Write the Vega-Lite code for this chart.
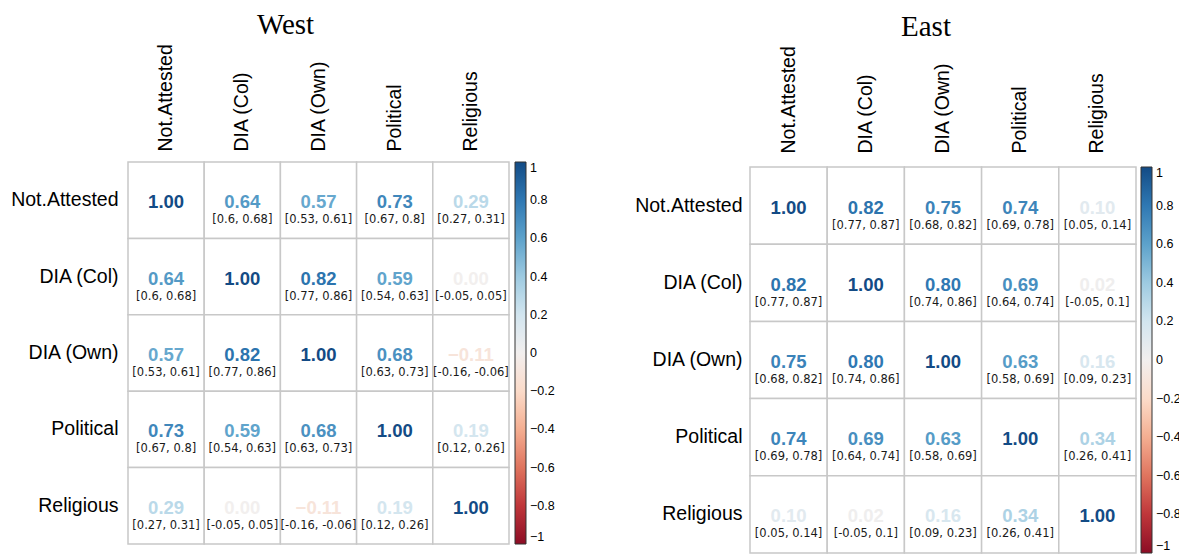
{
  "$schema": "https://vega.github.io/schema/vega-lite/v6.json",
  "padding": {"left": 10, "top": 10, "right": 0, "bottom": 0},
  "spacing": 79,
  "background": "white",
  "config": {
    "view": {"stroke": null},
    "axis": {"grid": false, "ticks": false, "domain": false, "title": null, "labelFont": "Liberation Sans", "labelFontSize": 19.5, "labelColor": "#000000"},
    "title": {"font": "Liberation Serif", "fontSize": 29, "fontWeight": "normal", "color": "#000000", "anchor": "middle"}
  },
  "resolve": {"scale": {"color": "independent"}, "legend": {"color": "independent"}},
  "datasets": {
    "west": [
      {"row": "Not.Attested", "col": "Not.Attested", "r": 1.00, "ci": ""},
      {"row": "Not.Attested", "col": "DIA (Col)", "r": 0.64, "ci": "[0.6, 0.68]"},
      {"row": "Not.Attested", "col": "DIA (Own)", "r": 0.57, "ci": "[0.53, 0.61]"},
      {"row": "Not.Attested", "col": "Political", "r": 0.73, "ci": "[0.67, 0.8]"},
      {"row": "Not.Attested", "col": "Religious", "r": 0.29, "ci": "[0.27, 0.31]"},
      {"row": "DIA (Col)", "col": "Not.Attested", "r": 0.64, "ci": "[0.6, 0.68]"},
      {"row": "DIA (Col)", "col": "DIA (Col)", "r": 1.00, "ci": ""},
      {"row": "DIA (Col)", "col": "DIA (Own)", "r": 0.82, "ci": "[0.77, 0.86]"},
      {"row": "DIA (Col)", "col": "Political", "r": 0.59, "ci": "[0.54, 0.63]"},
      {"row": "DIA (Col)", "col": "Religious", "r": 0.00, "ci": "[-0.05, 0.05]"},
      {"row": "DIA (Own)", "col": "Not.Attested", "r": 0.57, "ci": "[0.53, 0.61]"},
      {"row": "DIA (Own)", "col": "DIA (Col)", "r": 0.82, "ci": "[0.77, 0.86]"},
      {"row": "DIA (Own)", "col": "DIA (Own)", "r": 1.00, "ci": ""},
      {"row": "DIA (Own)", "col": "Political", "r": 0.68, "ci": "[0.63, 0.73]"},
      {"row": "DIA (Own)", "col": "Religious", "r": -0.11, "ci": "[-0.16, -0.06]"},
      {"row": "Political", "col": "Not.Attested", "r": 0.73, "ci": "[0.67, 0.8]"},
      {"row": "Political", "col": "DIA (Col)", "r": 0.59, "ci": "[0.54, 0.63]"},
      {"row": "Political", "col": "DIA (Own)", "r": 0.68, "ci": "[0.63, 0.73]"},
      {"row": "Political", "col": "Political", "r": 1.00, "ci": ""},
      {"row": "Political", "col": "Religious", "r": 0.19, "ci": "[0.12, 0.26]"},
      {"row": "Religious", "col": "Not.Attested", "r": 0.29, "ci": "[0.27, 0.31]"},
      {"row": "Religious", "col": "DIA (Col)", "r": 0.00, "ci": "[-0.05, 0.05]"},
      {"row": "Religious", "col": "DIA (Own)", "r": -0.11, "ci": "[-0.16, -0.06]"},
      {"row": "Religious", "col": "Political", "r": 0.19, "ci": "[0.12, 0.26]"},
      {"row": "Religious", "col": "Religious", "r": 1.00, "ci": ""}
    ],
    "east": [
      {"row": "Not.Attested", "col": "Not.Attested", "r": 1.00, "ci": ""},
      {"row": "Not.Attested", "col": "DIA (Col)", "r": 0.82, "ci": "[0.77, 0.87]"},
      {"row": "Not.Attested", "col": "DIA (Own)", "r": 0.75, "ci": "[0.68, 0.82]"},
      {"row": "Not.Attested", "col": "Political", "r": 0.74, "ci": "[0.69, 0.78]"},
      {"row": "Not.Attested", "col": "Religious", "r": 0.10, "ci": "[0.05, 0.14]"},
      {"row": "DIA (Col)", "col": "Not.Attested", "r": 0.82, "ci": "[0.77, 0.87]"},
      {"row": "DIA (Col)", "col": "DIA (Col)", "r": 1.00, "ci": ""},
      {"row": "DIA (Col)", "col": "DIA (Own)", "r": 0.80, "ci": "[0.74, 0.86]"},
      {"row": "DIA (Col)", "col": "Political", "r": 0.69, "ci": "[0.64, 0.74]"},
      {"row": "DIA (Col)", "col": "Religious", "r": 0.02, "ci": "[-0.05, 0.1]"},
      {"row": "DIA (Own)", "col": "Not.Attested", "r": 0.75, "ci": "[0.68, 0.82]"},
      {"row": "DIA (Own)", "col": "DIA (Col)", "r": 0.80, "ci": "[0.74, 0.86]"},
      {"row": "DIA (Own)", "col": "DIA (Own)", "r": 1.00, "ci": ""},
      {"row": "DIA (Own)", "col": "Political", "r": 0.63, "ci": "[0.58, 0.69]"},
      {"row": "DIA (Own)", "col": "Religious", "r": 0.16, "ci": "[0.09, 0.23]"},
      {"row": "Political", "col": "Not.Attested", "r": 0.74, "ci": "[0.69, 0.78]"},
      {"row": "Political", "col": "DIA (Col)", "r": 0.69, "ci": "[0.64, 0.74]"},
      {"row": "Political", "col": "DIA (Own)", "r": 0.63, "ci": "[0.58, 0.69]"},
      {"row": "Political", "col": "Political", "r": 1.00, "ci": ""},
      {"row": "Political", "col": "Religious", "r": 0.34, "ci": "[0.26, 0.41]"},
      {"row": "Religious", "col": "Not.Attested", "r": 0.10, "ci": "[0.05, 0.14]"},
      {"row": "Religious", "col": "DIA (Col)", "r": 0.02, "ci": "[-0.05, 0.1]"},
      {"row": "Religious", "col": "DIA (Own)", "r": 0.16, "ci": "[0.09, 0.23]"},
      {"row": "Religious", "col": "Political", "r": 0.34, "ci": "[0.26, 0.41]"},
      {"row": "Religious", "col": "Religious", "r": 1.00, "ci": ""}
    ]
  },
  "hconcat": [
    {
      "width": 381,
      "height": 382,
      "title": {"text": "West", "dx": -33},
      "data": {"name": "west"},
      "encoding": {
        "x": {"field": "col", "type": "nominal", "sort": ["Not.Attested", "DIA (Col)", "DIA (Own)", "Political", "Religious"], "scale": {"type": "band", "paddingInner": 0, "paddingOuter": 0}, "axis": {"orient": "top", "labelAngle": -90, "labelPadding": 11}},
        "y": {"field": "row", "type": "nominal", "sort": ["Not.Attested", "DIA (Col)", "DIA (Own)", "Political", "Religious"], "scale": {"type": "band", "paddingInner": 0, "paddingOuter": 0}, "axis": {"orient": "left", "labelPadding": 10}}
      },
      "layer": [
        {"mark": {"type": "rect", "fill": "white", "stroke": "#c8c8c8", "strokeWidth": 1.5}},
        {
          "mark": {"type": "text", "font": "Liberation Sans", "fontSize": 18.5, "fontWeight": "bold", "dy": 2},
          "encoding": {
            "text": {"field": "r", "type": "quantitative", "format": ".2f"},
            "color": {"field": "r", "type": "quantitative", "scale": {"scheme": "redblue", "domain": [-1, 1]},
              "legend": {"orient": "right", "offset": 6, "title": null, "gradientLength": 382, "gradientThickness": 11, "values": [1, 0.8, 0.6, 0.4, 0.2, 0, -0.2, -0.4, -0.6, -0.8, -1], "format": ".1~f", "labelFont": "Liberation Sans", "labelFontSize": 12.5, "labelOffset": 4, "labelOverlap": false, "labelColor": "#000000", "gradientStrokeColor": "#333333", "gradientStrokeWidth": 1}}
          }
        },
        {
          "mark": {"type": "text", "font": "DejaVu Sans", "fontSize": 11.5, "dy": 20, "color": "#1a1a1a"},
          "encoding": {"text": {"field": "ci", "type": "nominal"}}
        }
      ]
    },
    {
      "width": 386,
      "height": 391,
      "title": {"text": "East", "dx": -17},
      "data": {"name": "east"},
      "encoding": {
        "x": {"field": "col", "type": "nominal", "sort": ["Not.Attested", "DIA (Col)", "DIA (Own)", "Political", "Religious"], "scale": {"type": "band", "paddingInner": 0, "paddingOuter": 0}, "axis": {"orient": "top", "labelAngle": -90, "labelPadding": 9}},
        "y": {"field": "row", "type": "nominal", "sort": ["Not.Attested", "DIA (Col)", "DIA (Own)", "Political", "Religious"], "scale": {"type": "band", "paddingInner": 0, "paddingOuter": 0, "range": [5, 391]}, "axis": {"orient": "left", "labelPadding": 8}}
      },
      "layer": [
        {"mark": {"type": "rect", "fill": "white", "stroke": "#c8c8c8", "strokeWidth": 1.5}},
        {
          "mark": {"type": "text", "font": "Liberation Sans", "fontSize": 18.5, "fontWeight": "bold", "dy": 2},
          "encoding": {
            "text": {"field": "r", "type": "quantitative", "format": ".2f"},
            "color": {"field": "r", "type": "quantitative", "scale": {"scheme": "redblue", "domain": [-1, 1]},
              "legend": {"orient": "right", "offset": 0, "padding": 5, "title": null, "gradientLength": 386, "gradientThickness": 11, "values": [1, 0.8, 0.6, 0.4, 0.2, 0, -0.2, -0.4, -0.6, -0.8, -1], "format": ".1~f", "labelFont": "Liberation Sans", "labelFontSize": 12.5, "labelOffset": 4, "labelOverlap": false, "labelColor": "#000000", "gradientStrokeColor": "#333333", "gradientStrokeWidth": 1}}
          }
        },
        {
          "mark": {"type": "text", "font": "DejaVu Sans", "fontSize": 11.5, "dy": 20, "color": "#1a1a1a"},
          "encoding": {"text": {"field": "ci", "type": "nominal"}}
        }
      ]
    }
  ]
}
